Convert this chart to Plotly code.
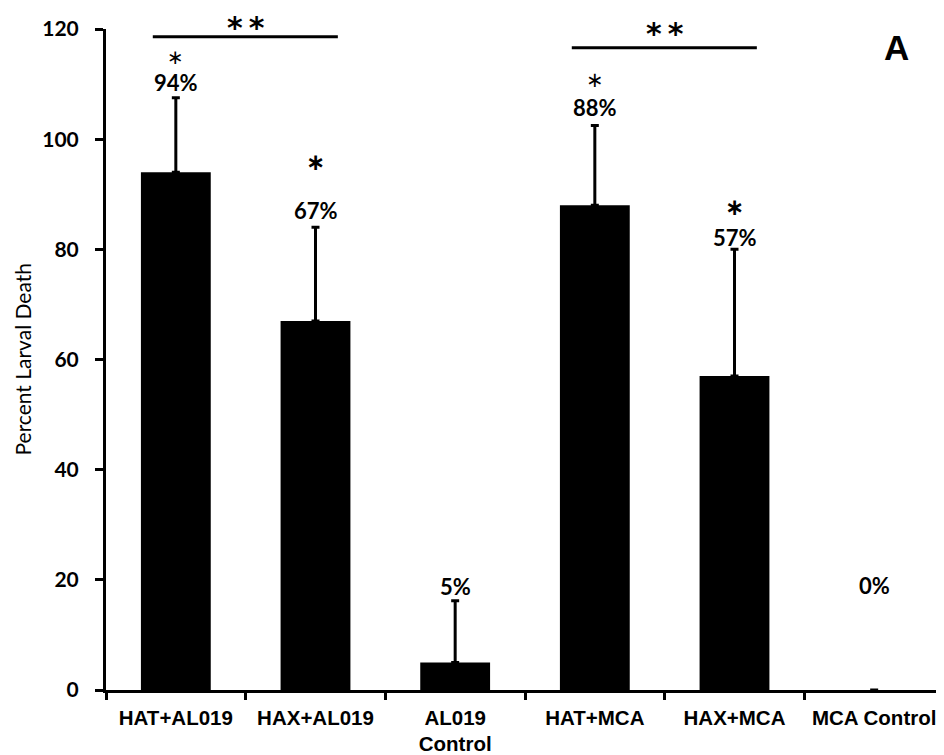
import plotly.graph_objects as go

categories = ["HAT+AL019", "HAX+AL019", "AL019<br>Control", "HAT+MCA", "HAX+MCA", "MCA Control"]
values = [94, 67, 5, 88, 57, 0]
err_upper = [13.5, 17, 11.2, 14.5, 23, None]
err_lower = [0, 0, 0, 0, 0, None]
pct_labels = ["94%", "67%", "5%", "88%", "57%", "0%"]
pct_label_y = [110.2, 87.0, 18.7, 105.8, 82.2, 18.9]
star_y = [115.0, 95.9, None, 110.7, 87.7, None]
star_size = [20, 23, 0, 21, 23, 0]
star_weight = ["normal", "bold", "normal", "normal", "bold", "normal"]
bracket_pairs = [(0, 1), (3, 4)]
bracket_y = [118.6, 116.6]
bracket_star_px = [0, 6]   # top of the star text box, pixels below figure top
YMAX = 120

NUMFONT = "Lato"
LBLFONT = "Liberation Sans"
STARFONT = "DejaVu Sans"

# page body has an 8px margin; the figure is sized/offset to compensate
W, H = 936, 747
ML, MT, MB = 98, 21, 65
plot_w = W - ML
plot_h = H - MT - MB

fig = go.Figure()
fig.add_trace(go.Bar(
    x=categories, y=values, width=0.5,
    marker=dict(color="black", line=dict(width=0)),
    error_y=dict(type="data", array=err_upper, arrayminus=err_lower, symmetric=False,
                 color="black", thickness=3, width=4, visible=True),
    showlegend=False, hoverinfo="skip",
))

annotations = []
for i, (lab, yy) in enumerate(zip(pct_labels, pct_label_y)):
    annotations.append(dict(x=categories[i], y=yy / YMAX, text=lab, showarrow=False,
                            font=dict(family=NUMFONT, size=22, color="black", weight="bold"),
                            xref="x", yref="paper", xanchor="center", yanchor="middle"))
    if star_y[i] is not None:
        annotations.append(dict(x=categories[i], y=star_y[i] / YMAX, text="\u2217", showarrow=False,
                                font=dict(family=STARFONT, size=star_size[i], color="black",
                                          weight=star_weight[i]),
                                xref="x", yref="paper", xanchor="center", yanchor="middle"))

shapes = []
for (a, b), by, spx in zip(bracket_pairs, bracket_y, bracket_star_px):
    shapes.append(dict(type="line", xref="x", yref="y", x0=a - 0.165, x1=b + 0.16, y0=by, y1=by,
                       line=dict(color="black", width=3)))
    annotations.append(dict(x=(a + b) / 2, y=(plot_h + MT - spx) / plot_h, yanchor="top",
                            xanchor="center", text="*\u2009*", showarrow=False,
                            font=dict(family=STARFONT, size=30, color="black", weight="bold"),
                            xref="x", yref="paper"))

annotations.append(dict(x=(888 - ML) / plot_w, y=(682 - 39) / plot_h, xref="paper", yref="paper",
                        xanchor="center", yanchor="middle", text="A", showarrow=False,
                        font=dict(family=LBLFONT, size=35, color="black", weight="bold")))

annotations.append(dict(x=(14 - ML) / plot_w, y=0.5, xref="paper", yref="paper",
                        text="Percent Larval Death", textangle=-90, showarrow=False,
                        xanchor="center", yanchor="middle",
                        font=dict(family=NUMFONT, size=21, color="black")))

fig.update_layout(
    width=W, height=H,
    margin=dict(l=ML, r=0, t=MT, b=MB, autoexpand=False),
    paper_bgcolor="white", plot_bgcolor="white",
    annotations=annotations, shapes=shapes,
    xaxis=dict(
        type="category", range=[-0.5, 5.5], showline=True, linecolor="black", linewidth=3,
        ticks="outside", tickson="boundaries", ticklen=7, tickwidth=3, tickcolor="black",
        tickfont=dict(family=LBLFONT, size=20.5, color="black", weight="bold"),
        ticklabelstandoff=7,
        showgrid=False, zeroline=False, automargin=False,
    ),
    yaxis=dict(
        range=[0, YMAX], tickvals=[0, 20, 40, 60, 80, 100, 120], showline=True, linecolor="black",
        linewidth=3, ticks="outside", ticklen=8, tickwidth=3, tickcolor="black",
        tickfont=dict(family=NUMFONT, size=21, color="black", weight="bold"),
        ticklabelstandoff=12,
        showgrid=False, zeroline=False, automargin=False,
    ),
)

fig.write_html("out.html")
